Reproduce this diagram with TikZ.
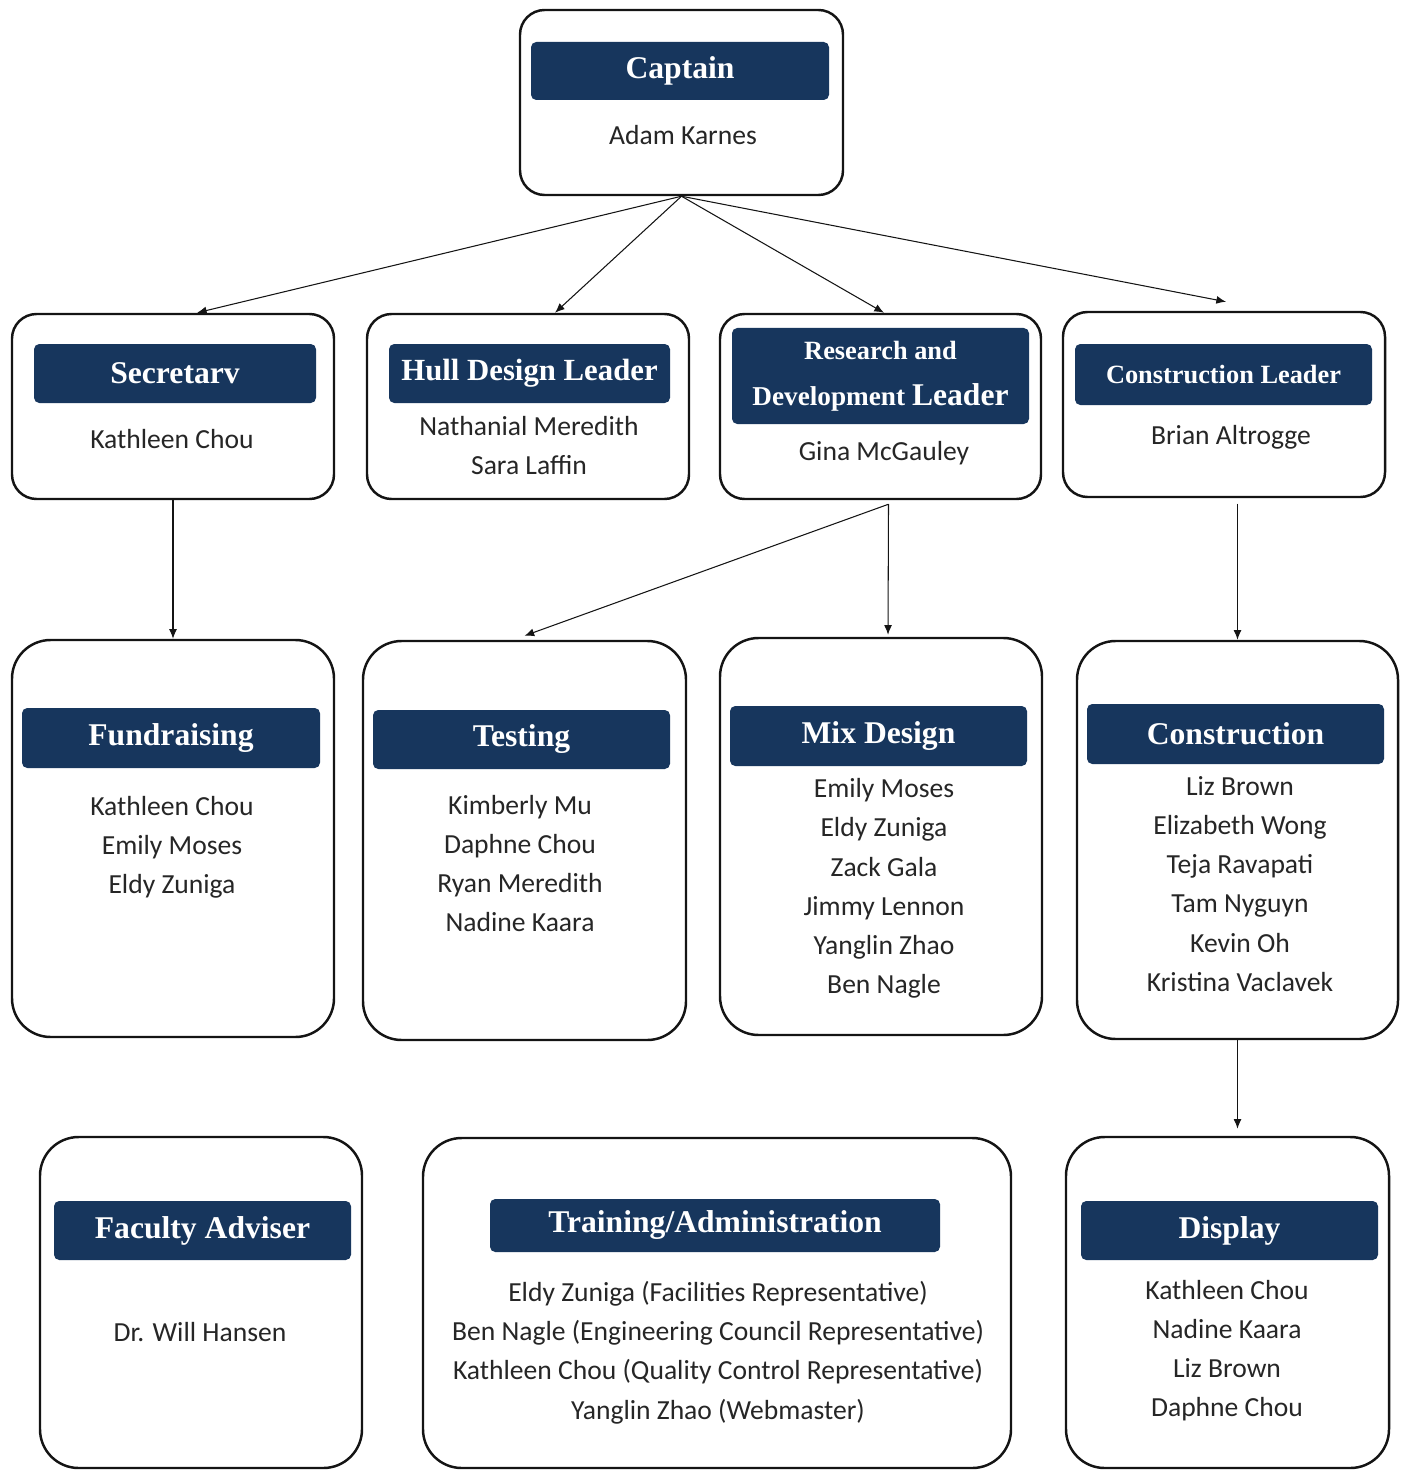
\documentclass[tikz,border=0pt]{standalone}
\usepackage{fontspec}
\setmainfont{Carlito}
\newfontfamily\headfont{Liberation Serif}
\usepackage{xcolor}
\usepackage{tikz}
\usetikzlibrary{arrows.meta,positioning,calc}
\definecolor{orgedge}{RGB}{20,20,20}
\definecolor{orgnavy}{RGB}{23,54,93}
\definecolor{orgtxt}{RGB}{38,38,38}
\newcommand\px{0.2mm}
\tikzset{
  unit/.style={
    draw=orgedge, line width=1.4pt, fill=white, inner sep=0pt,
    rounded corners=14pt
  },
  bigunit/.style={unit, rounded corners=22pt},
  head/.style={
    fill=orgnavy, rounded corners=3pt, inner sep=0pt, text=white,
    align=center, font=\headfont\bfseries\fontsize{18}{20}\selectfont
  },
  who/.style={
    align=center, text=orgtxt, inner sep=0pt,
    font=\fontsize{15.7}{22.3}\selectfont
  },
  arr/.style={-{Latex[length=5.5pt,width=4.5pt]}, draw=orgedge, line width=0.6pt}
}

\begin{document}
\begin{tikzpicture}[x=\px,y=-\px]
  \useasboundingbox (0,0) rectangle (1408,1470);
  % Top level
  \node[unit, minimum width=323*\px, minimum height=185*\px] (cap) at (681.5,102.5) {};
  \node[head, minimum width=298*\px, minimum height=58*\px] (caph) at (680,71) {Captain};
  \node[who] (capw) at (683,135) {Adam Karnes};

  % Leaders
  \node[unit, minimum width=322*\px, minimum height=185*\px] (sec) at (173,406.5) {};
  \node[head, minimum width=282*\px, minimum height=59*\px] (sech) at (175,373.5) {Secretarv};
  \node[who] (secw) at (172,439) {Kathleen Chou};

  \node[unit, minimum width=322*\px, minimum height=185*\px] (hull) at (528,406.5) {};
  \node[head, minimum width=281*\px, minimum height=59*\px] (hullh) at (529.5,373.5)
    {\fontsize{17.5}{20}\selectfont Hull Design Leader};
  \node[who] (hullw) at (529,445.5) {Nathanial Meredith\\Sara Laffin};

  \node[unit, minimum width=321*\px, minimum height=185*\px] (rnd) at (880.5,406.5) {};
  \node[head, minimum width=297*\px, minimum height=96*\px] (rndh) at (880.5,376)
    {\fontsize{15}{18}\selectfont Research and\\[6pt]
     \fontsize{15.5}{18}\selectfont Development {\fontsize{18}{18}\selectfont Leader}};
  \node[who] (rndw) at (884,453) {Gina McGauley};

  \node[unit, minimum width=322*\px, minimum height=185*\px] (bld) at (1224,404.5) {};
  \node[head, minimum width=297*\px, minimum height=61*\px] (bldh) at (1223.5,374.5)
    {\fontsize{15}{18}\selectfont Construction Leader};
  \node[who] (bldw) at (1231,437) {Brian Altrogge};

  % Teams
  \node[bigunit, minimum width=322*\px, minimum height=397*\px] (fund) at (173,838.5) {};
  \node[head, minimum width=298*\px, minimum height=60*\px] (fundh) at (171,738) {Fundraising};
  \node[who] (fundw) at (172,847) {Kathleen Chou\\Emily Moses\\Eldy Zuniga};

  \node[bigunit, minimum width=323*\px, minimum height=399*\px] (test) at (524.5,840.5) {};
  \node[head, minimum width=297*\px, minimum height=59*\px] (testh) at (521.5,739.5) {Testing};
  \node[who] (testw) at (520,863.5) {Kimberly Mu\\Daphne Chou\\Ryan Meredith\\Nadine Kaara};

  \node[bigunit, minimum width=322*\px, minimum height=397*\px] (mix) at (881,836.5) {};
  \node[head, minimum width=297*\px, minimum height=60*\px] (mixh) at (878.5,736) {Mix Design};
  \node[who] (mixw) at (884,888.5)
    {Emily Moses\\Eldy Zuniga\\Zack Gala\\Jimmy Lennon\\Yanglin Zhao\\Ben Nagle};

  \node[bigunit, minimum width=321*\px, minimum height=398*\px] (cons) at (1237.5,840) {};
  \node[head, minimum width=297*\px, minimum height=60*\px] (consh) at (1235.5,734) {Construction};
  \node[who] (consw) at (1240,884)
    {Liz Brown\\Elizabeth Wong\\Teja Ravapati\\Tam Nyguyn\\Kevin Oh\\Kristina Vaclavek};

  % Bottom row
  \node[bigunit, minimum width=322*\px, minimum height=331*\px] (fac) at (201,1302.5) {};
  \node[head, minimum width=297*\px, minimum height=59*\px] (fach) at (202.5,1230.5) {Faculty Adviser};
  \node[who] (facw) at (200,1332) {Dr. Will Hansen};

  \node[bigunit, minimum width=588*\px, minimum height=330*\px] (train) at (717,1303) {};
  \node[head, minimum width=450*\px, minimum height=53*\px] (trainh) at (715,1225.5) {Training/Administration};
  \node[who] (trainw) at (718,1352.5)
    {Eldy Zuniga (Facilities Representative)\\
     Ben Nagle (Engineering Council Representative)\\
     Kathleen Chou (Quality Control Representative)\\
     Yanglin Zhao (Webmaster)};

  \node[bigunit, minimum width=323*\px, minimum height=331*\px] (disp) at (1227.5,1302.5) {};
  \node[head, minimum width=297*\px, minimum height=59*\px] (disph) at (1229.5,1230.5) {Display};
  \node[who] (dispw) at (1227,1350.5) {Kathleen Chou\\Nadine Kaara\\Liz Brown\\Daphne Chou};

  % Connectors
  \draw[arr] (cap.south) -- ($(sec.north)+(24,0)$);
  \draw[arr] (cap.south) -- ($(hull.north)+(27,0)$);
  \draw[arr] (cap.south) -- ($(rnd.north)+(3.5,0)$);
  \draw[arr] (cap.south) -- ($(bld.north)+(2,-9)$);
  \draw[arr] (sec.south) -- (fund.north);
  \coordinate (rndout) at ($(rnd.south)+(8,4)$);
  \draw[arr] (rndout) -- ($(test.north)+(0,-4)$);
  \draw[arr] (rndout) -- ($(mix.north)+(7,-2)$);
  \draw[arr, shorten <=3pt] (bld.south -| cons.north) -- (cons.north);
  \draw[arr, shorten >=4pt] (cons.south) -- (cons.south |- disp.north);
\end{tikzpicture}
\end{document}
